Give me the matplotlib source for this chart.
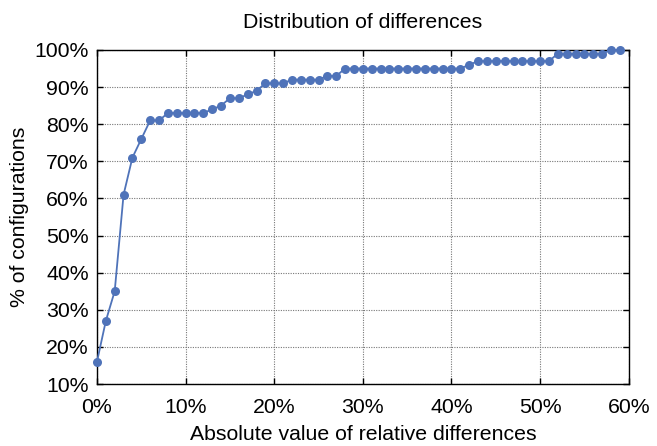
import matplotlib
matplotlib.use("Agg")
import matplotlib.pyplot as plt
from matplotlib.ticker import FuncFormatter, MultipleLocator

# Absolute relative difference (%) and cumulative share of configurations (%)
diff_pct = list(range(0, 60))
config_pct = [
    16, 27, 35, 61, 71, 76, 81, 81, 83, 83,
    83, 83, 83, 84, 85, 87, 87, 88, 89, 91,
    91, 91, 92, 92, 92, 92, 93, 93, 95, 95,
    95, 95, 95, 95, 95, 95, 95, 95, 95, 95,
    95, 95, 96, 97, 97, 97, 97, 97, 97, 97,
    97, 97, 99, 99, 99, 99, 99, 99, 100, 100,
]

plt.rcParams["font.family"] = ["Liberation Sans", "DejaVu Sans"]

fig = plt.figure(figsize=(6.57, 4.46), dpi=100)
ax = fig.add_axes([0.1476, 0.139, 0.8094, 0.749])

ax.plot(diff_pct, config_pct, "-o", color="#4f73b9", linewidth=1.3,
        markersize=6.5, markeredgewidth=0, zorder=3, clip_on=False)

ax.set_xlim(0, 60)
ax.set_ylim(10, 100)
ax.xaxis.set_major_locator(MultipleLocator(10))
ax.yaxis.set_major_locator(MultipleLocator(10))
pct = FuncFormatter(lambda v, _: f"{v:.0f}%")
ax.xaxis.set_major_formatter(pct)
ax.yaxis.set_major_formatter(pct)

ax.grid(True, color="#777777", linestyle=(0, (1, 1.2)), linewidth=0.8)
ax.tick_params(direction="in", length=4, width=1, labelsize=15.3,
               top=True, right=True)
ax.tick_params(axis="x", pad=10)
ax.tick_params(axis="y", pad=6)
for s in ax.spines.values():
    s.set_linewidth(1.0)

ax.set_title("Distribution of differences", fontsize=15.3, pad=16)
ax.set_xlabel("Absolute value of relative differences", fontsize=15.3, labelpad=6)
ax.set_ylabel("% of configurations", fontsize=15.3, labelpad=4)

fig.savefig("out.png", dpi=100)
